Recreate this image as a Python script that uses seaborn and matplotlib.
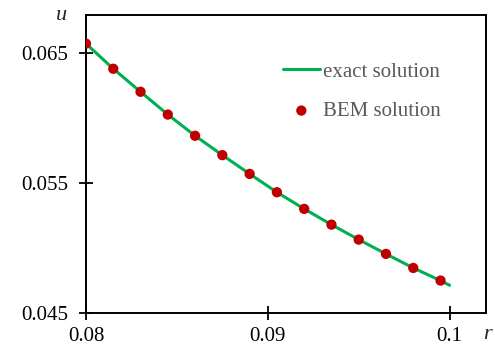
import numpy as np
import pandas as pd
import matplotlib
matplotlib.use("Agg")
import matplotlib.pyplot as plt
import seaborn as sns

# exact solution (line)
r_exact = [0.08, 0.0815, 0.083, 0.0845, 0.086, 0.0875, 0.089, 0.0905, 0.092,
           0.0935, 0.095, 0.0965, 0.098, 0.0995, 0.1]
u_exact = [0.0657, 0.06377, 0.0620, 0.06025, 0.05862, 0.05713, 0.05569, 0.05428,
           0.0530, 0.05179, 0.05064, 0.04954, 0.04846, 0.04749, 0.04713]

# BEM solution (points)
r_bem = [0.08, 0.0815, 0.083, 0.0845, 0.086, 0.0875, 0.089, 0.0905, 0.092,
         0.0935, 0.095, 0.0965, 0.098, 0.0995]
u_bem = [0.0657, 0.06377, 0.0620, 0.06025, 0.05862, 0.05713, 0.05569, 0.05428,
         0.0530, 0.05179, 0.05064, 0.04954, 0.04846, 0.04749]

x_ticks = [0.08, 0.09, 0.1]
x_labels = ['0.08', '0.09', '0.1']
y_ticks = [0.045, 0.055, 0.065]
y_labels = ['0.045', '0.055', '0.065']

sns.set_theme(style="white")
plt.rcParams['font.family'] = ['Liberation Serif', 'DejaVu Serif']

fig = plt.figure(figsize=(4.95, 3.45), dpi=100)
ax = fig.add_axes([0.1737, 0.0928, 0.8081, 0.8637])

df_exact = pd.DataFrame({'r': r_exact, 'u': u_exact})
df_bem = pd.DataFrame({'r': r_bem, 'u': u_bem})

sns.lineplot(data=df_exact, x='r', y='u', ax=ax, color='#00B050', linewidth=2.2,
             label='exact solution', zorder=2)
sns.scatterplot(data=df_bem, x='r', y='u', ax=ax, color='#C00000', s=55,
                edgecolor='none', label='BEM solution', zorder=3)

ax.set_xlim(0.08, 0.102)
ax.set_ylim(0.045, 0.0679)
ax.set_xticks(x_ticks)
ax.set_xticklabels(x_labels)
ax.set_yticks(y_ticks)
ax.set_yticklabels(y_labels)
ax.tick_params(bottom=True, left=True, direction='inout', length=10, width=1.3,
               labelsize=15, colors='black')
ax.tick_params(axis='y', pad=7.5)
ax.tick_params(axis='x', pad=5)
for s in ax.spines.values():
    s.set_color('black')
    s.set_linewidth(1.4)

ax.set_xlabel('')
ax.set_ylabel('')
fig.text(0.124, 0.956, 'u', fontsize=16, style='italic', ha='center', va='center')
fig.text(0.984, 0.03, 'r', fontsize=16, style='italic', ha='center', va='center')

leg = ax.legend(loc='upper left', bbox_to_anchor=(0.472, 0.87), frameon=False,
                fontsize=15, handlelength=1.75, handletextpad=0.15,
                labelspacing=0.95, borderaxespad=0)
for t in leg.get_texts():
    t.set_color('#595959')

fig.savefig('out.png', dpi=100)
